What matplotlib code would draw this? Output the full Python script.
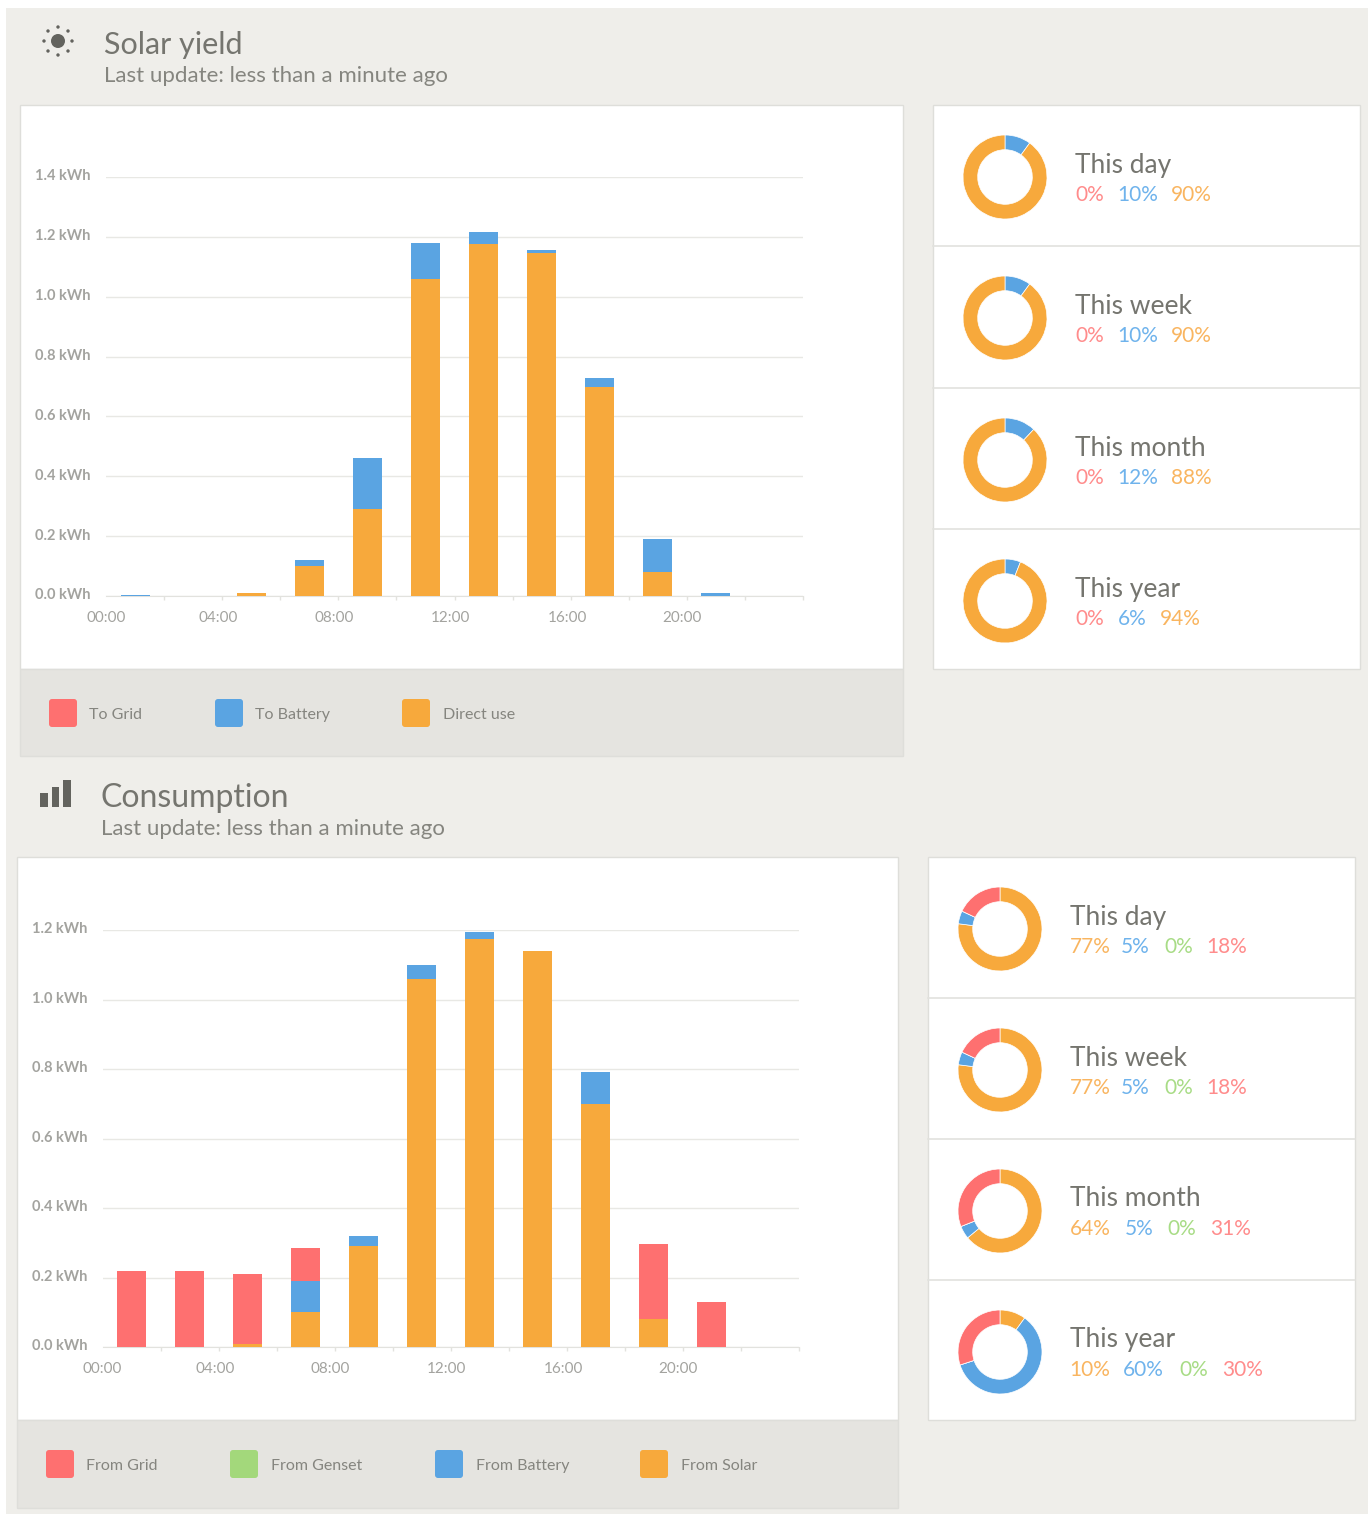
import matplotlib
matplotlib.use('Agg')
import matplotlib.pyplot as plt
from matplotlib.patches import Rectangle, FancyBboxPatch, Circle
from matplotlib.transforms import ScaledTranslation

plt.rcParams['font.family'] = ['Lato', 'DejaVu Sans']

W, H = 1368, 1514
RED, BLUE, ORANGE, GREEN = '#FE7070', '#5AA4E2', '#F7A93C', '#A3D87B'
RED_T, BLUE_T, ORANGE_T, GREEN_T = '#FF8C8C', '#6FB3EC', '#F9B560', '#A8DC86'

# Data
hours = [1, 3, 5, 7, 9, 11, 13, 15, 17, 19, 21, 23]
solar_direct = [0, 0, 0.01, 0.10, 0.29, 1.06, 1.175, 1.145, 0.70, 0.08, 0, 0]
solar_battery = [0.002, 0, 0, 0.02, 0.17, 0.12, 0.04, 0.01, 0.03, 0.11, 0.01, 0]
solar_grid = [0] * 12

cons_solar = [0, 0, 0.01, 0.10, 0.29, 1.06, 1.175, 1.14, 0.70, 0.08, 0, 0]
cons_battery = [0, 0, 0, 0.09, 0.03, 0.04, 0.02, 0, 0.09, 0, 0, 0]
cons_genset = [0] * 12
cons_grid = [0.22, 0.22, 0.20, 0.095, 0, 0, 0, 0, 0, 0.215, 0.13, 0]

solar_yticks = [0.0, 0.2, 0.4, 0.6, 0.8, 1.0, 1.2, 1.4]
cons_yticks = [0.0, 0.2, 0.4, 0.6, 0.8, 1.0, 1.2]
xtick_minor = list(range(0, 25, 2))
xtick_labels = ['00:00', '04:00', '08:00', '12:00', '16:00', '20:00']
solar_xlabel_pos = [0, 3.86, 7.85, 11.85, 15.88, 19.85]
cons_xlabel_pos = [0, 3.88, 7.85, 11.85, 15.88, 19.83]

periods = ['This day', 'This week', 'This month', 'This year']
solar_shares = [[0, 10, 90], [0, 10, 90], [0, 12, 88], [0, 6, 94]]
cons_shares = [[77, 5, 0, 18], [77, 5, 0, 18], [64, 5, 0, 31], [10, 60, 0, 30]]

fig = plt.figure(figsize=(W / 100, H / 100), dpi=100, facecolor='white')
bg = fig.add_axes([0, 0, 1, 1])
bg.set_xlim(0, W)
bg.set_ylim(H, 0)
bg.axis('off')


def box(x0, y0, x1, y1, fc, ec='#DEDEDA', lw=1.0):
    bg.add_patch(Rectangle((x0, y0), x1 - x0, y1 - y0, fc=fc, ec=ec, lw=lw))


def txt(x, y, s, size, color, weight='normal'):
    bg.text(x, y, s, fontsize=size, color=color, va='center', ha='left', fontweight=weight)


def bar_chart(left, right, top, bottom, ymax, yticks, xlabel_pos, stacks):
    ax = fig.add_axes([left / W, 1 - bottom / H, (right - left) / W, (bottom - top) / H])
    base = [0] * len(hours)
    for vals, col in stacks:
        ax.bar(hours, vals, width=1.0, bottom=base, color=col, zorder=3)
        base = [b + v for b, v in zip(base, vals)]
    ax.set_xlim(0, 24)
    ax.set_ylim(0, ymax)
    ax.patch.set_alpha(0)
    for s in ['top', 'left', 'right']:
        ax.spines[s].set_visible(False)
    ax.spines['bottom'].set_color('#E2E2DE')
    ax.set_yticks(yticks)
    ax.set_yticklabels(['%.1f kWh' % v for v in yticks], fontsize=10.5, color='#A3A39F', fontweight='bold')
    ax.grid(axis='y', color='#E8E8E4', lw=1.0, zorder=0)
    ax.tick_params(axis='y', length=0, pad=11)
    up = ScaledTranslation(0, 1.5 / 72, fig.dpi_scale_trans)
    for lab in ax.get_yticklabels():
        lab.set_transform(lab.get_transform() + up)
    ax.set_xticks(xtick_minor, minor=True)
    ax.set_xticks(xlabel_pos)
    ax.set_xticklabels(xtick_labels, fontsize=11, color='#A3A39F')
    ax.tick_params(axis='x', which='major', length=0, pad=11)
    ax.tick_params(axis='x', which='minor', length=3, color='#E2E2DE', width=1)
    return ax


def donut(cx, cy, shares, colors):
    r = 42
    ax = fig.add_axes([(cx - r) / W, 1 - (cy + r) / H, 2 * r / W, 2 * r / H])
    ax.pie(shares, colors=colors, startangle=90, counterclock=False, radius=1.0,
           wedgeprops=dict(width=0.35, edgecolor='white', linewidth=0.5))
    ax.set_xlim(-1, 1)
    ax.set_ylim(-1, 1)


def legend(items, y):
    for sx, tx, label, col in items:
        bg.add_patch(FancyBboxPatch((sx + 3, y - 11), 22, 22, boxstyle='round,pad=3', fc=col, ec='none'))
        txt(tx, y + 2, label, 11.5, '#85857F')


# page
box(6, 8, W + 5, H, '#EFEEEA', ec='none')

# Solar section
sun_x, sun_y = 58, 41
bg.add_patch(Circle((sun_x, sun_y), 7, fc='#63635E', ec='none'))
for dx, dy in [(0, -14), (10, -10), (14, 0), (10, 10), (0, 14), (-10, 10), (-14, 0), (-10, -10)]:
    bg.add_patch(Circle((sun_x + dx, sun_y + dy), 1.7, fc='#63635E', ec='none'))
txt(104, 45, 'Solar yield', 22, '#75756F')
txt(104, 76, 'Last update: less than a minute ago', 16, '#85857F')

box(19.5, 105, 903, 669, 'white')
box(19.5, 669, 903, 756, '#E5E4E0')
bar_chart(106, 803, 177, 596, 1.4, solar_yticks, solar_xlabel_pos,
          [(solar_direct, ORANGE), (solar_battery, BLUE), (solar_grid, RED)])
legend([(49, 89, 'To Grid', RED), (215, 255, 'To Battery', BLUE), (402, 443, 'Direct use', ORANGE)], 713)

box(933, 105, 1360, 669, 'white')
for y in [246, 388, 529]:
    bg.plot([933, 1360], [y, y], color='#E2E2DE', lw=1.2)
solar_cy = [177, 318, 460, 601]
solar_px = [[1075, 1117, 1171], [1075, 1117, 1171], [1075, 1117, 1171], [1075, 1118, 1160]]
for name, sh, cy, px in zip(periods, solar_shares, solar_cy, solar_px):
    donut(1005, cy, sh, [RED, BLUE, ORANGE])
    txt(1075, cy - 12, name, 19, '#75756F')
    for x, v, c in zip(px, sh, [RED_T, BLUE_T, ORANGE_T]):
        txt(x, cy + 18, '%d%%' % v, 15, c)

# Consumption section
for x0, x1, y0 in [(40, 47.5, 793), (51.5, 59, 787), (62.5, 70.5, 780)]:
    bg.add_patch(Rectangle((x0, y0), x1 - x0, 807 - y0, fc='#63635E', ec='none'))
txt(101, 798, 'Consumption', 23, '#75756F')
txt(101, 829, 'Last update: less than a minute ago', 16, '#85857F')

box(16.5, 857, 898, 1420, 'white')
box(16.5, 1420, 898, 1508, '#E5E4E0')
bar_chart(102.5, 798.5, 930, 1347, 1.2, cons_yticks, cons_xlabel_pos,
          [(cons_solar, ORANGE), (cons_battery, BLUE), (cons_genset, GREEN), (cons_grid, RED)])
legend([(46, 86, 'From Grid', RED), (230, 271, 'From Genset', GREEN),
        (435, 476, 'From Battery', BLUE), (640, 681, 'From Solar', ORANGE)], 1464)

box(928, 857, 1355, 1420, 'white')
for y in [998, 1139, 1280]:
    bg.plot([928, 1355], [y, y], color='#E2E2DE', lw=1.2)
cons_cy = [929, 1070, 1211, 1352]
cons_px = [[1070, 1121, 1164, 1206], [1070, 1121, 1164, 1206],
           [1070, 1125, 1167, 1210], [1069, 1123, 1179, 1222]]
for name, sh, cy, px in zip(periods, cons_shares, cons_cy, cons_px):
    donut(1000, cy, sh, [ORANGE, BLUE, GREEN, RED])
    txt(1070, cy - 12, name, 19, '#75756F')
    for x, v, c in zip(px, sh, [ORANGE_T, BLUE_T, GREEN_T, RED_T]):
        txt(x, cy + 18, '%d%%' % v, 15, c)

bg.set_xlim(0, W)
bg.set_ylim(H, 0)
fig.savefig('out.png', dpi=100, facecolor='white')
